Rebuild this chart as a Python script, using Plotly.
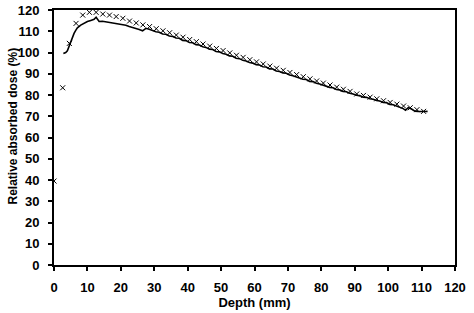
import plotly.graph_objects as go

# Measured dose (crosses)
meas_depth = [0, 2.6, 4.6, 6.6, 8.6, 10.6, 12.6, 14.6, 16.6, 18.6, 20.6, 22.6, 24.6, 26.6, 28.6,
              30.6, 32.6, 34.6, 36.6, 38.6, 40.6, 42.6, 44.6, 46.6, 48.6, 50.6, 52.6, 54.6, 56.6,
              58.6, 60.6, 62.6, 64.6, 66.6, 68.6, 70.6, 72.6, 74.6, 76.6, 78.6, 80.6, 82.6, 84.6,
              86.6, 88.6, 90.6, 92.6, 94.6, 96.6, 98.6, 100.6, 102.6, 104.6, 106.6, 108.6, 110.6]
meas_dose = [39.5, 83.4, 104.3, 113.7, 117.6, 118.9, 118.9, 118.1, 117.6, 116.9, 116.1, 114.8, 113.9,
             113.0, 112.2, 111.2, 110.2, 109.3, 108.2, 107.2, 106.1, 105.1, 104.0, 103.0, 101.9,
             100.9, 99.8, 98.7, 97.7, 96.6, 95.6, 94.6, 93.6, 92.6, 91.6, 90.6, 89.6, 88.6, 87.6,
             86.6, 85.6, 84.7, 83.7, 82.7, 81.7, 80.5, 79.8, 79.0, 78.2, 77.3, 76.5, 75.7, 74.8,
             74.0, 73.1, 72.3]

# Calculated dose (solid line)
calc_depth = [2.8, 3.5, 4.0, 4.5, 5.0, 5.5, 6.0, 6.5, 7.0, 8.0, 9.0, 10.0, 11.0, 12.0, 12.6, 13.5,
              14.5, 15.5, 16.5, 17.5, 18.5, 19.5, 20.5, 21.5, 22.5, 23.5, 24.5, 25.5, 26.5, 27.5,
              28.5, 29.5, 30.5, 31.5, 32.5, 33.5, 34.5, 35.5, 36.5, 37.5, 38.5, 39.5, 40.5, 41.5,
              42.5, 43.5, 44.5, 45.5, 46.5, 47.5, 48.5, 49.5, 50.5, 51.5, 52.5, 53.5, 54.5, 55.5,
              56.5, 57.5, 58.5, 59.5, 60.5, 61.5, 62.5, 63.5, 64.5, 65.5, 66.5, 67.5, 68.5, 69.5,
              70.5, 71.5, 72.5, 73.5, 74.5, 75.5, 76.5, 77.5, 78.5, 79.5, 80.5, 81.5, 82.5, 83.5,
              84.5, 85.5, 86.5, 87.5, 88.5, 89.5, 90.5, 91.5, 92.5, 93.5, 94.5, 95.5, 96.5, 97.5,
              98.5, 99.5, 100.5, 101.5, 102.5, 103.5, 104.5, 105.2, 106.0, 107.0, 108.0, 109.0,
              110.0, 111.0, 111.8]
calc_dose = [99.5, 100.0, 100.8, 103.0, 105.0, 107.2, 109.0, 110.4, 111.6, 112.9, 113.9, 114.6, 115.1,
             115.6, 116.6, 114.6, 114.7, 114.4, 114.2, 114.0, 113.8, 113.2, 112.9, 112.8, 112.2,
             111.8, 111.3, 110.8, 110.2, 111.4, 110.9, 110.2, 109.8, 109.5, 108.7, 108.6, 107.8,
             107.6, 106.8, 106.7, 105.7, 105.6, 104.7, 104.6, 103.7, 103.5, 102.7, 102.4, 101.6,
             101.4, 100.5, 100.3, 99.5, 99.2, 98.4, 98.2, 97.3, 97.1, 96.3, 96.0, 95.3, 95.0, 94.3,
             94.1, 93.3, 93.2, 92.3, 92.2, 91.3, 91.1, 90.4, 90.2, 89.4, 89.1, 88.5, 88.2, 87.4,
             87.3, 86.4, 86.3, 85.5, 85.2, 84.6, 84.3, 83.6, 83.4, 82.6, 82.4, 81.7, 81.5, 80.8,
             80.5, 79.9, 79.7, 79.0, 78.9, 78.2, 78.0, 77.4, 77.2, 76.5, 76.4, 75.6, 75.4, 74.8,
             74.4, 73.6, 72.8, 74.0, 73.4, 72.4, 72.3, 72.1, 72.2, 72.3]

x_ticks = list(range(0, 121, 10))
y_ticks = list(range(0, 121, 10))
y_title = "Relative absorbed dose (%)"
x_title = "Depth (mm)"

fig = go.Figure()
fig.add_trace(go.Scatter(x=calc_depth, y=calc_dose, mode="lines",
                         line=dict(color="black", width=1.6), showlegend=False))
fig.add_trace(go.Scatter(x=meas_depth, y=meas_dose, mode="markers",
                         marker=dict(symbol="x-thin", size=5, color="black",
                                     line=dict(color="black", width=1)),
                         showlegend=False))

fam = "Liberation Sans, Arial, sans-serif"
fig.update_layout(
    width=474, height=313,
    margin=dict(l=54, r=19, t=10, b=48),
    paper_bgcolor="white", plot_bgcolor="white",
    font=dict(family=fam, size=13, color="black"),
    xaxis=dict(range=[0, 120], tickvals=x_ticks, ticks="outside", ticklen=4, tickwidth=1.5,
               tickcolor="black", showline=True, linecolor="black", linewidth=2, mirror=True,
               showgrid=False, zeroline=False, ticklabelstandoff=5, automargin=False,
               tickfont=dict(family=fam, size=13, color="black", weight="bold"),
               title=dict(text="<b>" + x_title + "</b>", standoff=4,
                          font=dict(family=fam, size=13, color="black"))),
    yaxis=dict(range=[0, 120], tickvals=y_ticks, ticks="outside", ticklen=4, tickwidth=1.5,
               tickcolor="black", showline=True, linecolor="black", linewidth=2, mirror=True,
               showgrid=False, zeroline=False, ticklabelstandoff=6, automargin=False,
               tickfont=dict(family=fam, size=13, color="black", weight="bold")),
    annotations=[dict(text="<b>" + y_title + "</b>", xref="paper", yref="paper",
                      x=0, y=0.543, xanchor="center", yanchor="middle", xshift=-41,
                      textangle=-90, showarrow=False,
                      font=dict(family=fam, size=12, color="black"))],
)
fig.write_html("out.html")
